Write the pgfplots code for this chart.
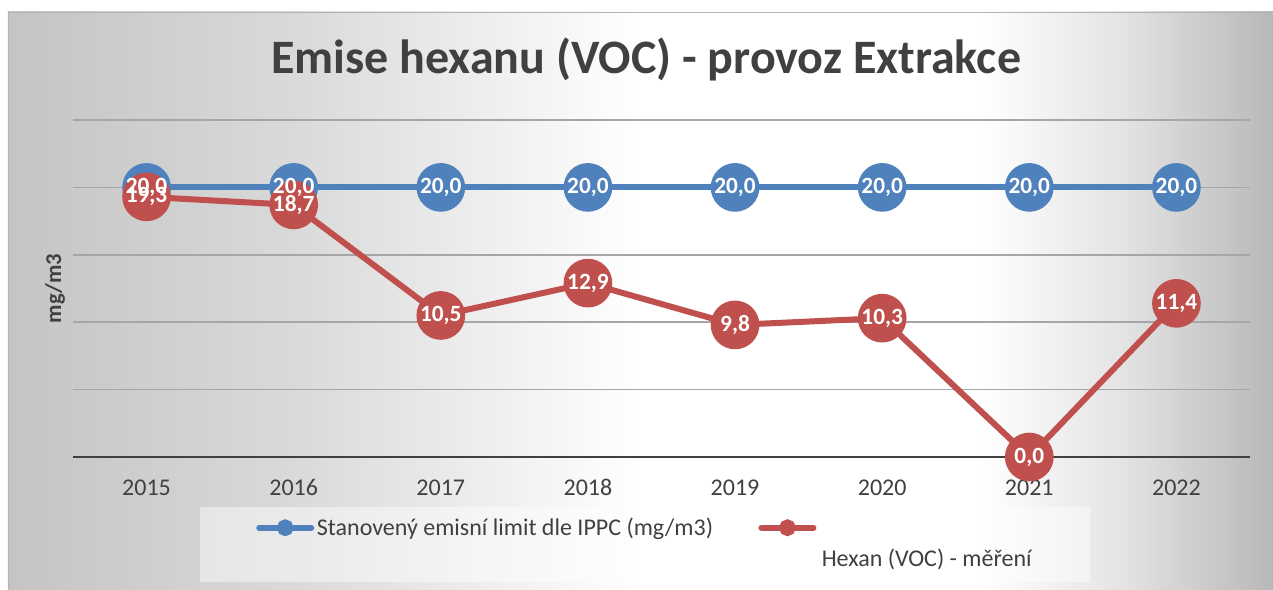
\documentclass[border=0pt]{standalone}
\usepackage{fontspec}
\setmainfont{Carlito}
\usepackage{pgfplots}
\pgfplotsset{compat=1.18}

\definecolor{lblue}{HTML}{4F81BD}
\definecolor{lred}{HTML}{C0504D}
\definecolor{txt}{HTML}{404040}
\definecolor{gridc}{HTML}{A6A6A6}
\definecolor{bgA}{HTML}{C4C4C4}
\definecolor{bgB}{HTML}{DADADA}
\definecolor{bgD}{HTML}{E4E4E4}
\definecolor{bgC}{HTML}{B8B8B8}

% data
\pgfplotstableread{
year limit
2015 20.0
2016 20.0
2017 20.0
2018 20.0
2019 20.0
2020 20.0
2021 20.0
2022 20.0
}\limittab
\pgfplotstableread{
year hexan
2015 19.3
2016 18.7
2017 10.5
2018 12.9
2019 9.8
2020 10.3
2021 0.0
2022 11.4
}\hexantab

\begin{document}
\begin{tikzpicture}
% background, in pixel units of the reference (axis corner at px 73,457)
\begin{scope}[x=0.75pt,y=-0.75pt,xshift=-54.75pt,yshift=342.75pt]
  \fill[white] (0,0) rectangle (1273,589);
  \shade[left color=bgA, right color=bgB] (8,12) rectangle (301,589);
  \shade[left color=bgB, right color=white] (300,12) rectangle (641,589);
  \fill[white] (640,12) rectangle (981,589);
  \shade[left color=white, right color=bgD] (980,12) rectangle (1121,589);
  \shade[left color=bgD, right color=bgC] (1120,12) rectangle (1273,589);
  \draw[gray!60,line width=0.6pt] (8,589) -- (8,12) -- (1273,12);
  % legend panel
  \fill[white, opacity=0.45] (200,507) rectangle (1090,582);
\end{scope}

\begin{axis}[
    scale only axis,
    width=882.75pt, height=252.75pt,
    xmin=2014.5, xmax=2022.5, ymin=0, ymax=25,
    clip=false,
    axis line style={draw=none},
    xtick={2015,2016,...,2022},
    ytick={5,10,15,20,25},
    yticklabels={},
    extra y ticks={0}, extra y tick labels={},
    extra y tick style={grid style={txt, line width=2.2pt}},
    major tick length=0pt,
    ymajorgrids, grid style={gridc, line width=1.1pt},
    font=\fontsize{18}{21}\selectfont,
    /pgf/number format/assume math mode=true,
    /pgf/number format/1000 sep={},
    xticklabel style={text=txt, anchor=base, yshift=-28.5pt},
    ylabel={mg/m3},
    ylabel style={at={(axis description cs:-0.0153,0.5)}, anchor=center, font=\fontsize{17}{20}\selectfont\bfseries, text=txt},
    title={Emise hexanu (VOC) - provoz Extrakce},
    title style={at={(axis description cs:0.487,1.113)}, anchor=base, font=\fontsize{36}{40}\selectfont\bfseries, text=txt},
    legend columns=2,
    legend style={at={(axis description cs:0.1079,-0.1484)}, anchor=north west,
        draw=none, fill=none,
        inner xsep=42pt, inner ysep=6pt, text=txt,
        font=\fontsize{18}{21}\selectfont,
        /tikz/every even column/.append style={column sep=32pt}},
    legend image code/.code={
        \draw[mark repeat=2, mark phase=2, #1, mark size=4pt, line cap=round]
            plot coordinates {(0pt,0pt) (19.5pt,0pt) (39pt,0pt)};},
    lbl/.style={nodes near coords,
        every node near coord/.append style={anchor=center, text=white,
            font=\fontsize{17.5}{20}\selectfont\bfseries},
        nodes near coords style={/pgf/number format/.cd, fixed, fixed zerofill, precision=1, use comma, assume math mode=true}},
]
\addplot[lblue, line width=4.5pt, mark=*, mark size=16pt, mark options={solid, fill=lblue, draw=none}]
    table[x=year, y=limit] {\limittab};
\addlegendentry{Stanovený emisní limit dle IPPC (mg/m3)}
\addplot[lred, line width=4.5pt, mark=*, mark size=16pt, mark options={solid, fill=lred, draw=none}, lbl]
    table[x=year, y=hexan] {\hexantab};
\addlegendentry{\hspace*{2pt}\raisebox{-30pt}[0pt][0pt]{Hexan (VOC) - měření}}
% labels of the limit series, on top of the red markers
\addplot[forget plot, only marks, mark=*, mark size=0.5pt, mark options={draw=none, fill=none}, lbl]
    table[x=year, y=limit] {\limittab};
\end{axis}

\begin{scope}[x=0.75pt,y=-0.75pt,xshift=-54.75pt,yshift=342.75pt]
  \pgfresetboundingbox
  \path[use as bounding box] (0,0) rectangle (1273,589);
\end{scope}
\end{tikzpicture}
\end{document}
